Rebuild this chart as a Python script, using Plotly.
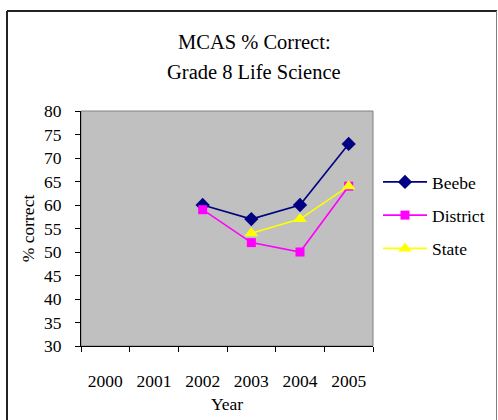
import plotly.graph_objects as go

years = ["2000", "2001", "2002", "2003", "2004", "2005"]
beebe = [None, None, 60, 57, 60, 73]
district = [None, None, 59, 52, 50, 64]
state = [None, None, None, 54, 57, 64]

FONT = "Liberation Serif"

fig = go.Figure()
fig.add_trace(go.Scatter(x=years, y=beebe, name="Beebe", mode="lines+markers",
                         line=dict(color="#000080", width=1.6),
                         marker=dict(symbol="diamond", size=11, color="#000080"),
                         legendgroup="a"))
fig.add_trace(go.Scatter(x=years, y=district, name="District", mode="lines+markers",
                         line=dict(color="#FF00FF", width=1.6),
                         marker=dict(symbol="square", size=9, color="#FF00FF"),
                         legendgroup="b"))
fig.add_trace(go.Scatter(x=years, y=state, name="State", mode="lines+markers",
                         line=dict(color="#FFFF00", width=1.6),
                         marker=dict(symbol="triangle-up", size=12, color="#FFFF00"),
                         legendgroup="c"))

L, R, T, B = 81, 125, 111, 74
W, H = 498, 420
pw, ph = W - L - R, H - T - B

def px(x):
    return (x - L) / pw

def py(y):
    return (H - B - y) / ph

fig.update_layout(
    width=W, height=H,
    margin=dict(l=L, r=R, t=T, b=B, autoexpand=False),
    paper_bgcolor="white",
    plot_bgcolor="#C0C0C0",
    font=dict(family=FONT, size=17, color="black"),
    showlegend=True,
    legend=dict(x=px(378), y=py(164), xanchor="left", yanchor="top",
                bgcolor="rgba(0,0,0,0)", borderwidth=0,
                font=dict(family=FONT, size=17.5),
                tracegroupgap=7.5, itemwidth=44),
    xaxis=dict(type="category", categoryorder="array", categoryarray=years,
               range=[-0.5, 5.5], showgrid=False, zeroline=False,
               showline=True, linecolor="black", linewidth=1,
               ticks="outside", tickson="boundaries", ticklen=5, tickcolor="black",
               ticklabelstandoff=19, tickfont=dict(size=17.5),
               title=dict(text="Year", font=dict(family=FONT, size=17.5), standoff=7),
               mirror=False, fixedrange=True),
    yaxis=dict(range=[30, 80], dtick=5, tick0=30, showgrid=False, zeroline=False,
               showline=True, linecolor="black", linewidth=1,
               ticks="outside", ticklen=5, tickcolor="black",
               ticklabelstandoff=10, tickfont=dict(size=17.5),
               title=dict(text="% correct", font=dict(family=FONT, size=17.5), standoff=4),
               fixedrange=True),
    shapes=[
        dict(type="rect", xref="paper", yref="paper", x0=0, x1=1, y0=0, y1=1,
             line=dict(color="#808080", width=1), layer="below"),
        dict(type="line", xref="paper", yref="paper", x0=px(7), x1=px(7),
             y0=py(11), y1=py(430), line=dict(color="#222222", width=2)),
        dict(type="line", xref="paper", yref="paper", x0=px(7), x1=px(497),
             y0=py(11), y1=py(11), line=dict(color="#222222", width=2)),
        dict(type="line", xref="paper", yref="paper", x0=px(496.5), x1=px(496.5),
             y0=py(11), y1=py(430), line=dict(color="#808080", width=1)),
    ],
    annotations=[
        dict(text="MCAS % Correct:", xref="paper", yref="paper", x=px(254), y=py(42),
             showarrow=False, xanchor="center", yanchor="middle",
             font=dict(family=FONT, size=20.5)),
        dict(text="Grade 8 Life Science", xref="paper", yref="paper", x=px(254), y=py(72),
             showarrow=False, xanchor="center", yanchor="middle",
             font=dict(family=FONT, size=20.5)),
    ],
)

fig.write_html("out.html", config={"displayModeBar": False},
               post_script="document.body.style.margin='0px';")
